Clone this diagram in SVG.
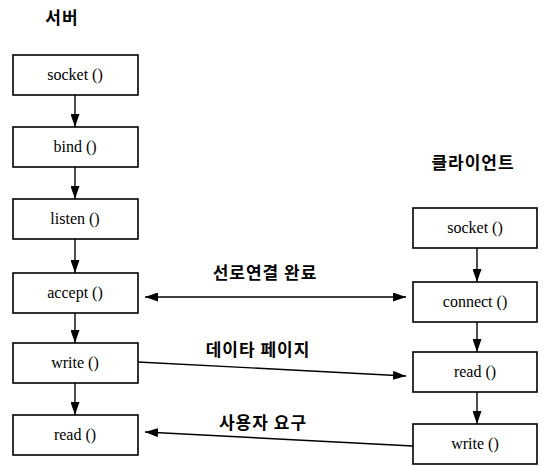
<svg xmlns="http://www.w3.org/2000/svg" width="544" height="466" viewBox="0 0 544 466">
  <style>
    .box rect { fill: #fff; stroke: #000; stroke-width: 1.6; }
    .box text { font-family: "Liberation Serif", serif; font-size: 16px; text-anchor: middle; fill: #000; }
    .title { font-family: "Noto Sans CJK KR", "Noto Sans", sans-serif; font-size: 17px; font-weight: bold; letter-spacing: 1px; text-anchor: middle; fill: #000; }
    .lbl { font-family: "Noto Sans CJK KR", "Noto Sans", sans-serif; font-size: 17px; font-weight: bold; letter-spacing: 1px; text-anchor: middle; fill: #000; }
    .conn line { stroke: #000; stroke-width: 1.4; fill: none; }
  </style>
  <defs>
    <marker id="head" viewBox="0 0 13 9" refX="13" refY="4.5" markerWidth="13" markerHeight="9" markerUnits="userSpaceOnUse" orient="auto-start-reverse">
      <path d="M0,0 L13,4.5 L0,9 Z" fill="#000"/>
    </marker>
  </defs>

  <rect width="544" height="466" fill="#fff"/>

  <text class="title" x="62" y="24">서버</text>
  <text class="title" x="473" y="169">클라이언트</text>

  <!-- server side -->
  <g id="s-socket" class="box"><rect x="13" y="55" width="125" height="40"/><text x="75" y="80">socket ()</text></g>
  <g id="s-bind" class="box"><rect x="13" y="127" width="125" height="40"/><text x="75" y="152">bind ()</text></g>
  <g id="s-listen" class="box"><rect x="13" y="199" width="125" height="40"/><text x="75" y="224">listen ()</text></g>
  <g id="s-accept" class="box"><rect x="13" y="273" width="125" height="40"/><text x="75" y="298">accept ()</text></g>
  <g id="s-write" class="box"><rect x="13" y="343" width="125" height="40"/><text x="75" y="368">write ()</text></g>
  <g id="s-read" class="box"><rect x="13" y="415" width="125" height="40"/><text x="75" y="440">read ()</text></g>

  <!-- client side -->
  <g id="c-socket" class="box"><rect x="413" y="208" width="124" height="40"/><text x="475" y="233">socket ()</text></g>
  <g id="c-connect" class="box"><rect x="413" y="282" width="124" height="40"/><text x="475" y="307">connect ()</text></g>
  <g id="c-read" class="box"><rect x="413" y="352" width="124" height="40"/><text x="475" y="377">read ()</text></g>
  <g id="c-write" class="box"><rect x="413" y="424" width="124" height="40"/><text x="475" y="449">write ()</text></g>

  <g id="connectors" class="conn">
    <line x1="75" y1="95" x2="75" y2="127" marker-end="url(#head)"/>
    <line x1="75" y1="167" x2="75" y2="199" marker-end="url(#head)"/>
    <line x1="75" y1="239" x2="75" y2="273" marker-end="url(#head)"/>
    <line x1="75" y1="313" x2="75" y2="343" marker-end="url(#head)"/>
    <line x1="75" y1="383" x2="75" y2="415" marker-end="url(#head)"/>
    <line x1="477" y1="248" x2="477" y2="282" marker-end="url(#head)"/>
    <line x1="477" y1="322" x2="477" y2="352" marker-end="url(#head)"/>
    <line x1="477" y1="392" x2="477" y2="424" marker-end="url(#head)"/>
    <line x1="145" y1="297" x2="406" y2="297" marker-start="url(#head)" marker-end="url(#head)"/>
    <line x1="138" y1="362" x2="406" y2="376" marker-end="url(#head)"/>
    <line x1="413" y1="446" x2="145" y2="432" marker-end="url(#head)"/>
  </g>

  <text class="lbl" x="265" y="279">선로연결 완료</text>
  <text class="lbl" x="258" y="356">데이타 페이지</text>
  <text class="lbl" x="263" y="429">사용자 요구</text>
</svg>
